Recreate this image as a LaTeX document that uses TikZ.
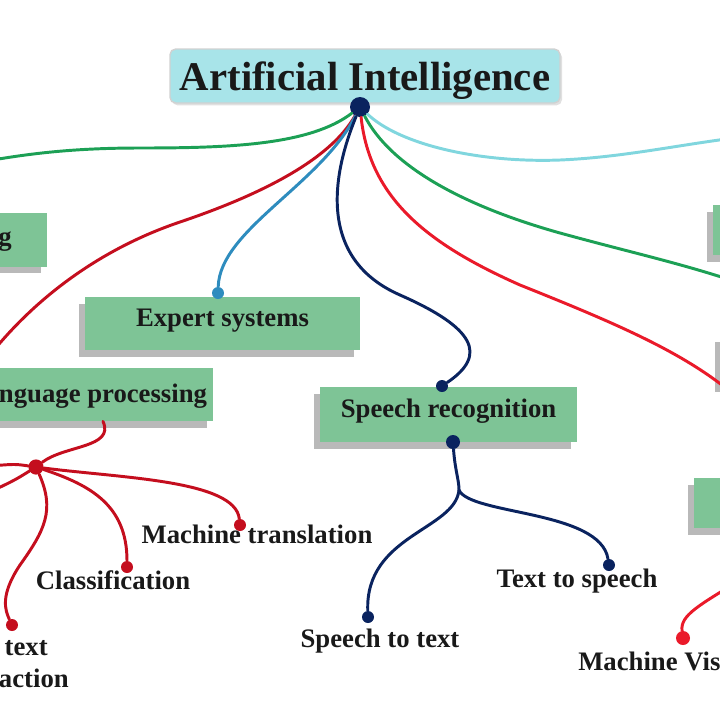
\documentclass[tikz,border=0pt]{standalone}
\usepackage{fontspec}
\setmainfont{Liberation Serif}
\usepackage{xcolor}
\usetikzlibrary{shadows}

\definecolor{boxgreen}{RGB}{126,196,150}
\definecolor{titlecyan}{RGB}{168,228,233}
\definecolor{hubnavy}{RGB}{10,35,95}
\definecolor{linegreen}{RGB}{28,160,85}
\definecolor{darkred}{RGB}{196,14,30}
\definecolor{brightred}{RGB}{234,26,42}
\definecolor{steelblue}{RGB}{46,140,190}
\definecolor{lightcyan}{RGB}{128,214,222}

\begin{document}
\begin{tikzpicture}[scale=0.25]
\tikzstyle{every node}+=[inner sep=0pt]
\tikzstyle{topic}=[fill=boxgreen, minimum height=1.33cm, text height=0.45cm, text depth=0.3cm, font=\fontsize{19}{22}\selectfont\bfseries, text=black!90, drop shadow={shadow xshift=-0.15cm, shadow yshift=-0.17cm, fill=black!50, opacity=0.55}]
\tikzstyle{leaf}=[font=\fontsize{19}{22}\selectfont\bfseries, text=black!90]
\tikzstyle{dot}=[circle, minimum size=0.3cm]
\tikzstyle{link}=[line width=2.1pt, line cap=round]

\useasboundingbox (0,0) rectangle (72,-72);
\clip (0,0) rectangle (72,-72);

% title and hub
\node [fill=titlecyan, draw=black!18, line width=1pt, rounded corners=4pt, minimum width=9.75cm, minimum height=1.35cm, text height=0.7cm, text depth=0cm, font=\fontsize{29}{34}\selectfont\bfseries, text=black!90, drop shadow={shadow xshift=0.05cm, shadow yshift=-0.06cm, fill=black!30, opacity=0.4}] (ai) at (36.5,-7.6) {Artificial Intelligence};
\node [circle, fill=hubnavy, minimum size=0.5cm] (hub) at (36,-10.7) {};

% topic boxes
\node [topic, minimum width=2.1cm, text height=0.5cm, text depth=0.25cm] (ml) at (0.5,-24) {g};
\node [topic, minimum width=5.5cm, text height=0.6cm, text depth=0.18cm] (nlp) at (10.3,-39.45) {nguage processing};
\node [topic, minimum width=6.875cm] (es) at (22.25,-32.35) {Expert systems};
\node [topic, minimum width=6.425cm, minimum height=1.375cm] (sr) at (44.85,-41.45) {Speech recognition};
\node [topic, anchor=west, minimum width=3cm, minimum height=1.25cm] (boxa) at (71.3,-23) {};
\node [topic, anchor=west, minimum width=3cm, minimum height=1.25cm] (boxb) at (72.1,-36) {};
\node [topic, anchor=west, minimum width=3cm, minimum height=1.25cm] (boxc) at (69.4,-50.3) {};

% dots
\node [dot, fill=steelblue] (esdot) at (21.8,-29.3) {};
\node [dot, fill=hubnavy] (srtop) at (44.2,-38.6) {};
\node [dot, fill=hubnavy, minimum size=0.35cm] (srbot) at (45.3,-44.2) {};
\node [dot, fill=darkred, minimum size=0.38cm] (nlpdot) at (3.6,-46.7) {};
\node [dot, fill=darkred] (textdot) at (1.2,-62.5) {};
\node [dot, fill=darkred] (clsdot) at (12.7,-56.7) {};
\node [dot, fill=darkred] (mtdot) at (24,-52.5) {};
\node [dot, fill=hubnavy] (stdot) at (36.8,-61.7) {};
\node [dot, fill=hubnavy] (ttsdot) at (60.9,-56.5) {};
\node [dot, fill=brightred, minimum size=0.35cm] (mvdot) at (68.3,-63.8) {};

% leaf labels
\node [leaf, anchor=base] (mt) at (25.7,-54.3) {Machine translation};
\node [leaf, anchor=base] (cls) at (11.3,-58.9) {Classification};
\node [leaf, anchor=base east] (kt1) at (4.8,-65.5) {text};
\node [leaf, anchor=base east] (kt2) at (6.9,-68.7) {action};
\node [leaf, anchor=base] (tts) at (57.7,-58.7) {Text to speech};
\node [leaf, anchor=base] (stt) at (38,-64.7) {Speech to text};
\node [leaf, anchor=base west] (mv) at (57.8,-67) {Machine Vis};

% free ends off the page
\coordinate (mlend) at (-5,-16.8);
\coordinate (nlpin) at (-2,-36.8);
\coordinate (aiend) at (76,-13.5);
\coordinate (grend) at (76,-29);
\coordinate (rrend) at (74,-40);
\coordinate (off1) at (-1,-46.6);
\coordinate (off2) at (-1,-49.2);
\coordinate (srsplit) at (45.9,-49);
\coordinate (mvend) at (74,-58);

% links from the hub
\draw [link, linegreen] (hub) .. controls (31,-14.5) and (23,-14.8) .. (14,-14.8) .. controls (6,-14.8) and (1,-15.6) .. (mlend);
\draw [link, darkred] (hub) .. controls (33,-16) and (26,-19.5) .. (18,-22.2) .. controls (10,-24.9) and (3,-30) .. (nlpin);
\draw [link, steelblue] (hub) .. controls (32,-18.5) and (22,-23) .. (esdot);
\draw [link, hubnavy] (hub) .. controls (33,-18) and (32,-26) .. (40,-29.5) .. controls (47.5,-32.8) and (48.8,-35.5) .. (srtop);
\draw [link, lightcyan] (hub) .. controls (40,-14.5) and (48,-16.3) .. (56,-16) .. controls (63,-15.7) and (69,-14.2) .. (aiend);
\draw [link, linegreen] (hub) .. controls (39,-16.5) and (46,-20.5) .. (56,-23.3) .. controls (64,-25.5) and (69,-26.5) .. (grend);
\draw [link, brightred] (hub) .. controls (37,-20) and (43,-24.5) .. (52,-28.5) .. controls (62,-32.5) and (69,-35.5) .. (rrend);

% language processing branch
\draw [link, darkred] (nlp.south) .. controls (11.5,-44.8) and (6.5,-44.5) .. (nlpdot);
\draw [link, darkred] (nlpdot) .. controls (1.5,-46.4) .. (off1);
\draw [link, darkred] (nlpdot) .. controls (1.5,-48) .. (off2);
\draw [link, darkred] (nlpdot) .. controls (5.5,-51) and (4.5,-53) .. (2,-56.5) .. controls (0,-59.5) and (0.5,-61) .. (textdot);
\draw [link, darkred] (nlpdot) .. controls (9,-48.5) and (12.7,-50.5) .. (clsdot);
\draw [link, darkred] (nlpdot) .. controls (12,-47.8) and (23.5,-48) .. (mtdot);

% speech branch
\draw [link, hubnavy] (srbot) .. controls (45.5,-47) and (45.9,-48) .. (srsplit);
\draw [link, hubnavy] (srsplit) .. controls (45.5,-53) and (36.5,-53.5) .. (stdot);
\draw [link, hubnavy] (srsplit) .. controls (47,-51.5) and (60,-51) .. (ttsdot);

% vision branch
\draw [link, brightred] (mvdot) .. controls (68,-61.5) and (70,-60.5) .. (mvend);
\end{tikzpicture}
\end{document}
